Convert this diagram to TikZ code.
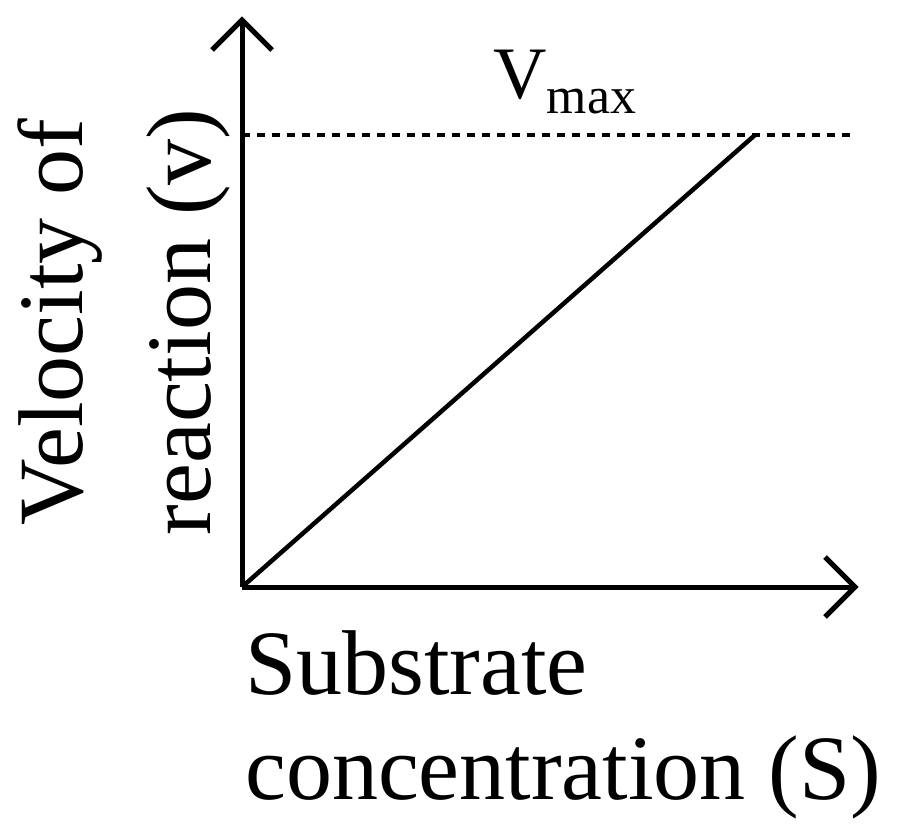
\documentclass[tikz,border=0pt]{standalone}
\usepackage{fontspec}
\setmainfont{Liberation Serif}
\begin{document}
\begin{tikzpicture}[x=1pt,y=-1pt,
  ax/.style={line width=5pt},
  lbl/.style={align=center,inner sep=0}]
\useasboundingbox (0,0) rectangle (900,837);
\coordinate (O) at (242,587);
\coordinate (Y) at (242,20);
\coordinate (X) at (855,587);
\coordinate (M) at (755,135);
\coordinate (D0) at (242,135);
\coordinate (D1) at (850,135);
\draw[ax,line join=miter] (O) -- (Y);
\draw[ax] (212,50) -- (Y) -- (272,50);
\draw[ax] (O) -- (X);
\draw[ax] (825,557) -- (X) -- (825,617);
\draw[line width=4.5pt] (O) -- (M);
\draw[line width=4pt,dash pattern=on 8pt off 7pt] (D0) -- (D1);
\node[lbl,font=\fontsize{74}{80}\selectfont] (vmax) at (565,82) {V\textsubscript{max}};
\node[lbl,rotate=90,font=\fontsize{92}{128}\selectfont] (yl) at (124,322) {Velocity of\\reaction (v)};
\node[lbl,align=left,anchor=north west,font=\fontsize{92}{105}\selectfont] (xl) at (245,630) {Substrate\\concentration (S)};
\end{tikzpicture}
\end{document}
